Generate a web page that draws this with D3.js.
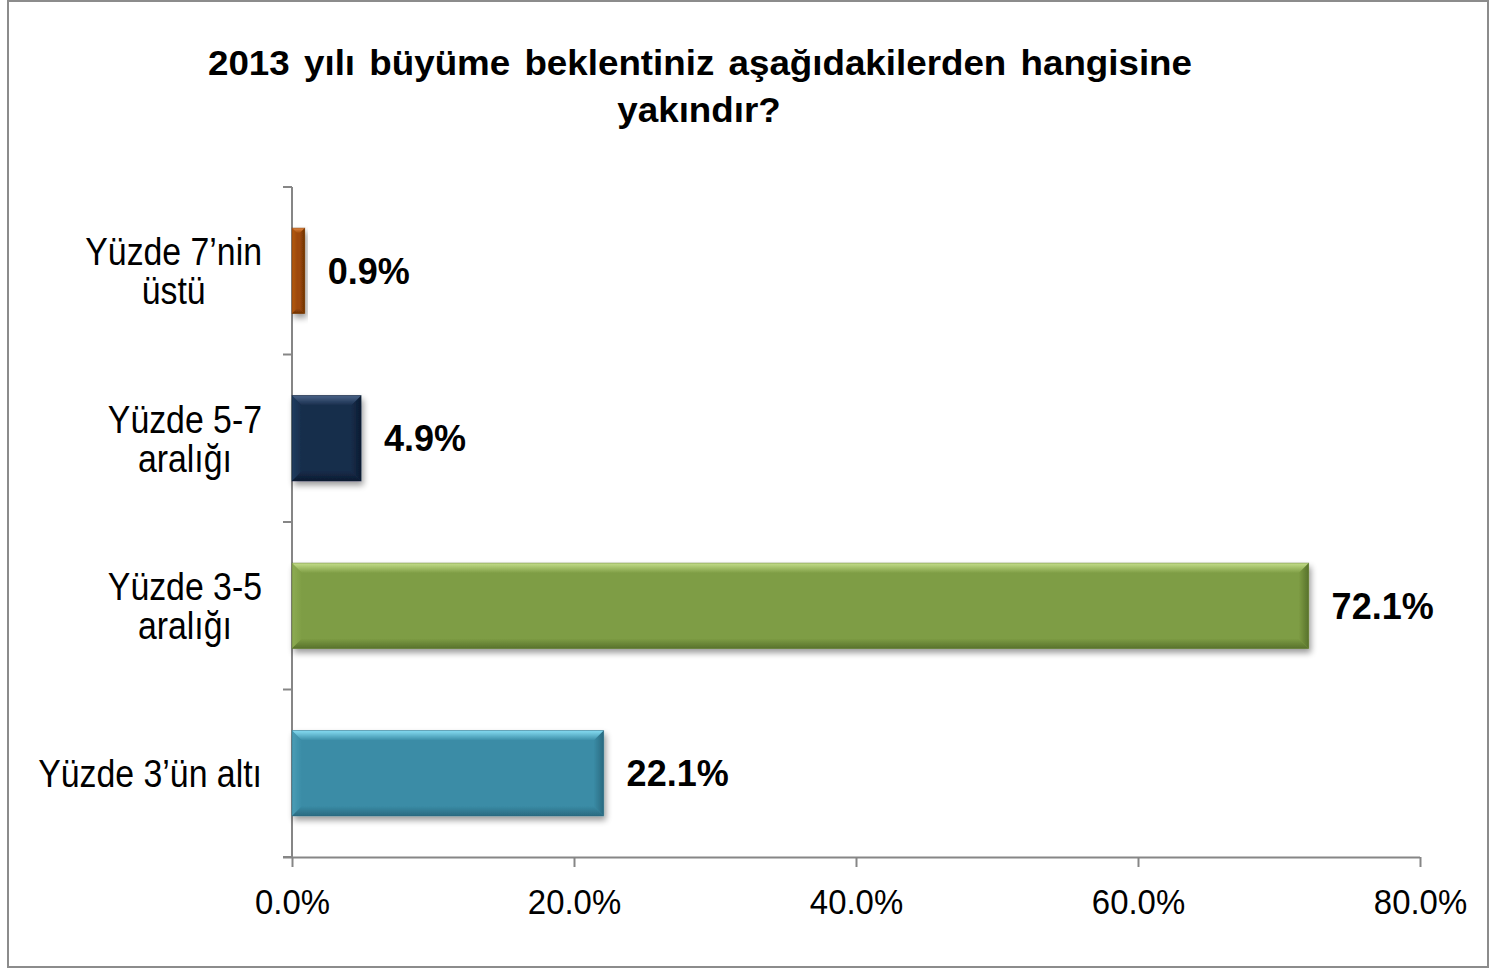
<!DOCTYPE html>
<html>
<head>
<meta charset="utf-8">
<script src="https://cdn.jsdelivr.net/npm/d3@7"></script>
<style>
  html, body { margin: 0; padding: 0; background: #fff; }
  svg { display: block; font-family: "Liberation Sans", Arial, sans-serif; }
</style>
</head>
<body>
<svg id="chart" width="1510" height="969"></svg>
<script>
// ---- data ----
const categories = ["Yüzde 7’nin üstü", "Yüzde 5-7 aralığı", "Yüzde 3-5 aralığı", "Yüzde 3’ün altı"];
const categoryLines = [["Yüzde 7’nin", "üstü"], ["Yüzde 5-7", "aralığı"], ["Yüzde 3-5", "aralığı"], ["Yüzde 3’ün altı"]];
const values = [0.9, 4.9, 72.1, 22.1];
const valueLabels = ["0.9%", "4.9%", "72.1%", "22.1%"];
const xTicks = [0, 20, 40, 60, 80];
const xTickLabels = ["0.0%", "20.0%", "40.0%", "60.0%", "80.0%"];
const titleLines = ["2013 yılı büyüme beklentiniz aşağıdakilerden hangisine", "yakındır?"];

// bar colours: [main, light bevel, dark bevel, side]
const barColors = [
  ["#9E4A09", "#E58A45", "#6E3205", "#B55A14"],
  ["#172D4B", "#4A6388", "#0C1B30", "#223D60"],
  ["#7E9D44", "#C4DE8A", "#58722C", "#8DAC53"],
  ["#3A8CA6", "#86DDF3", "#2A6A80", "#4A9DB6"]
];

const svg = d3.select("#chart");

// border
svg.append("rect").attr("x", 8).attr("y", 1).attr("width", 1480).attr("height", 966)
  .attr("fill", "#fff").attr("stroke", "#8c8c8c").attr("stroke-width", 2);

const defs = svg.append("defs");
const f = defs.append("filter").attr("id", "shadow").attr("x", "-10%").attr("y", "-20%").attr("width", "130%").attr("height", "160%");
f.append("feGaussianBlur").attr("in", "SourceAlpha").attr("stdDeviation", 3).attr("result", "b");
f.append("feOffset").attr("in", "b").attr("dx", 2).attr("dy", 4).attr("result", "o");
f.append("feComponentTransfer").attr("in", "o").attr("result", "oa")
  .append("feFuncA").attr("type", "linear").attr("slope", 0.4);
const fm = f.append("feMerge");
fm.append("feMergeNode").attr("in", "oa");
fm.append("feMergeNode").attr("in", "SourceGraphic");

function grad(id, x1, y1, x2, y2, c1, c2) {
  const g = defs.append("linearGradient").attr("id", id)
    .attr("x1", x1).attr("y1", y1).attr("x2", x2).attr("y2", y2);
  g.append("stop").attr("offset", "0%").attr("stop-color", c1);
  g.append("stop").attr("offset", "100%").attr("stop-color", c2);
}
barColors.forEach((c, i) => {
  grad("gt" + i, 0, 0, 0, 1, c[1], c[0]);
  grad("gb" + i, 0, 0, 0, 1, c[0], c[2]);
  grad("gl" + i, 0, 0, 1, 0, c[3], c[0]);
  grad("gr" + i, 0, 0, 1, 0, c[0], c[2]);
});

// scales
const x = d3.scaleLinear().domain([0, 80]).range([292, 1420]);
const y = d3.scaleBand().domain(categories).range([187, 857]).paddingInner(0.49).paddingOuter(0.245);

// title
const title = svg.append("g");
const tsx = 1.05;
const t1 = title.append("text").attr("x", 0).attr("y", 75).attr("text-anchor", "middle")
  .attr("transform", `translate(700,0) scale(${tsx},1)`)
  .attr("font-size", 35).attr("font-weight", "bold").attr("fill", "#000").text(titleLines[0]);
const len1 = t1.node().getComputedTextLength() * tsx;
const nSpaces = titleLines[0].split(" ").length - 1;
t1.attr("word-spacing", Math.max(0, (984 - len1) / nSpaces / tsx));
title.append("text").attr("x", 0).attr("y", 122).attr("text-anchor", "middle")
  .attr("transform", `translate(699,0) scale(${tsx},1)`)
  .attr("font-size", 35).attr("font-weight", "bold").attr("fill", "#000").text(titleLines[1]);

// axes
const axisColor = "#868686";
const xAxis = svg.append("g").attr("transform", `translate(0,${y.range()[1]})`)
  .call(d3.axisBottom(x).tickValues(xTicks).tickSize(10).tickSizeOuter(0)
    .tickFormat((d, i) => xTickLabels[i]));
xAxis.select(".domain").attr("stroke", axisColor).attr("stroke-width", 2).attr("d", `M${x(0) - 9},0.5H${x(80)}`);
xAxis.selectAll(".tick line").attr("stroke", axisColor).attr("stroke-width", 2);
xAxis.selectAll(".tick text").attr("font-size", 35).attr("fill", "#000")
  .attr("font-family", "Liberation Sans, Arial, sans-serif")
  .attr("y", 0).attr("dy", 0).attr("transform", "translate(0,57) scale(0.94,1)");

const yAxis = svg.append("g");
yAxis.append("line").attr("x1", x(0)).attr("x2", x(0)).attr("y1", y.range()[0]).attr("y2", y.range()[1])
  .attr("stroke", axisColor).attr("stroke-width", 2);
const step = y.step();
d3.range(categories.length + 1).forEach(i => {
  const yy = y.range()[0] + i * step;
  yAxis.append("line").attr("x1", x(0) - 9).attr("x2", x(0)).attr("y1", yy).attr("y2", yy)
    .attr("stroke", axisColor).attr("stroke-width", 2);
});

// category labels (block right-aligned at 262, lines centred within the block)
categories.forEach((c, i) => {
  const lines = categoryLines[i];
  const cy = y(c) + y.bandwidth() / 2;
  const g = svg.append("g");
  const lh = 39;
  const firstBase = cy + 14 - (lines.length - 1) * lh / 2;
  const texts = lines.map((ln, j) => g.append("text").attr("font-size", 38).attr("fill", "#000")
    .attr("text-anchor", "middle").attr("y", firstBase + j * lh).text(ln));
  const scaleX = 0.89;
  const maxW = d3.max(texts, t => t.node().getComputedTextLength()) * scaleX;
  const cx = 262 - maxW / 2;
  texts.forEach(t => t.attr("x", 0).attr("transform", `translate(${cx},0) scale(${scaleX},1)`));
});

// bars with bevel
const bv = 10;
categories.forEach((c, i) => {
  const x0 = x(0), x1 = x(values[i]);
  const y0 = y(c), y1 = y(c) + y.bandwidth();
  const w = x1 - x0;
  const b = Math.min(bv, w / 2.5);
  const col = barColors[i];
  const g = svg.append("g").attr("filter", "url(#shadow)");
  g.append("rect").attr("x", x0).attr("y", y0).attr("width", w).attr("height", y1 - y0).attr("fill", col[0]);
  // left bevel
  g.append("path").attr("d", `M${x0},${y0}L${x0 + b},${y0 + b}L${x0 + b},${y1 - b}L${x0},${y1}Z`).attr("fill", `url(#gl${i})`);
  // right bevel
  g.append("path").attr("d", `M${x1},${y0}L${x1 - b},${y0 + b}L${x1 - b},${y1 - b}L${x1},${y1}Z`).attr("fill", `url(#gr${i})`);
  // top bevel
  g.append("path").attr("d", `M${x0},${y0}L${x1},${y0}L${x1 - b},${y0 + b}L${x0 + b},${y0 + b}Z`).attr("fill", `url(#gt${i})`);
  // bottom bevel
  g.append("path").attr("d", `M${x0},${y1}L${x1},${y1}L${x1 - b},${y1 - b}L${x0 + b},${y1 - b}Z`).attr("fill", `url(#gb${i})`);
  g.append("rect").attr("x", x0).attr("y", y0).attr("width", w).attr("height", y1 - y0)
    .attr("fill", "none").attr("stroke", col[2]).attr("stroke-opacity", 0.45).attr("stroke-width", 1);

  svg.append("text").attr("x", x1 + 23).attr("y", (y0 + y1) / 2 + 13)
    .attr("font-size", 36).attr("font-weight", "bold").attr("fill", "#000").text(valueLabels[i]);
});
</script>
</body>
</html>
